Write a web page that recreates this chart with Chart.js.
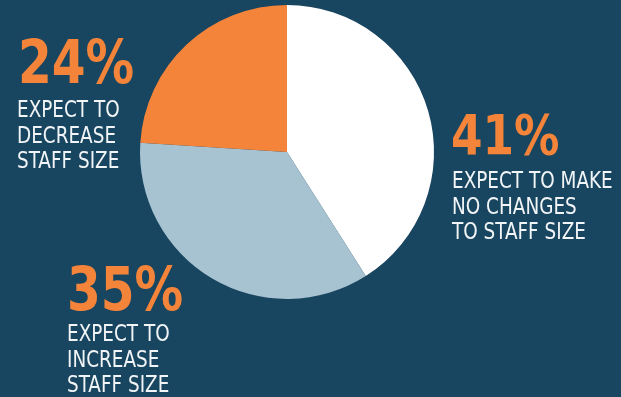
<!DOCTYPE html>
<html>
<head>
<meta charset="utf-8">
<script src="https://cdn.jsdelivr.net/npm/chart.js@4"></script>
<style>
    html, body { margin: 0; padding: 0; background: #18455f; }
    #wrap { position: relative; width: 621px; height: 397px; overflow: hidden; }
    canvas { position: absolute; left: 0; top: 0; }
    .lbl { position: absolute; font-family: "Liberation Sans Narrow", "DejaVu Sans Condensed", sans-serif; color: #f2f5f7; transform-origin: 0 0; }
    .pct { font-weight: bold; color: #f5843b; line-height: 1; transform: scaleX(0.9); }
    .txt { font-size: 23px; line-height: 25.5px; white-space: nowrap; transform: scaleX(0.89); }
</style>
</head>
<body>
<div id="wrap">
    <canvas id="pie" width="621" height="397"></canvas>
    <div class="lbl pct" id="p2" style="left:18px; top:32px; font-size:60px;"></div>
    <div class="lbl txt" id="t2" style="left:17px; top:97px;"></div>
    <div class="lbl pct" id="p0" style="left:451px; top:107px; font-size:56px;"></div>
    <div class="lbl txt" id="t0" style="left:452px; top:168px;"></div>
    <div class="lbl pct" id="p1" style="left:67px; top:259px; font-size:60px;"></div>
    <div class="lbl txt" id="t1" style="left:67px; top:321px;"></div>
</div>
<script>
document.addEventListener('DOMContentLoaded', function() {
    // valores do gráfico
    const categorias = ['No changes to staff size', 'Increase staff size', 'Decrease staff size'];
    const valores = [41, 35, 24];
    const rotulos = [
        ['EXPECT TO MAKE', 'NO CHANGES', 'TO STAFF SIZE'],
        ['EXPECT TO', 'INCREASE', 'STAFF SIZE'],
        ['EXPECT TO', 'DECREASE', 'STAFF SIZE']
    ];
    const cores = ['#ffffff', '#a7c2d0', '#f5843b'];

    // textos em HTML ao redor do gráfico
    valores.forEach((v, i) => {
        document.getElementById('p' + i).textContent = v + '%';
        document.getElementById('t' + i).innerHTML = rotulos[i].join('<br>');
    });

    const ctx = document.getElementById('pie').getContext('2d');
    new Chart(ctx, {
        type: 'pie',
        data: {
            labels: categorias,
            datasets: [{
                data: valores,
                backgroundColor: cores,
                borderWidth: 0
            }]
        },
        options: {
            responsive: false,
            animation: false,
            layout: {
                padding: { left: 140, right: 187, top: 5, bottom: 98 }
            },
            plugins: {
                legend: { display: false },
                tooltip: { enabled: false }
            }
        }
    });
});
</script>
</body>
</html>
